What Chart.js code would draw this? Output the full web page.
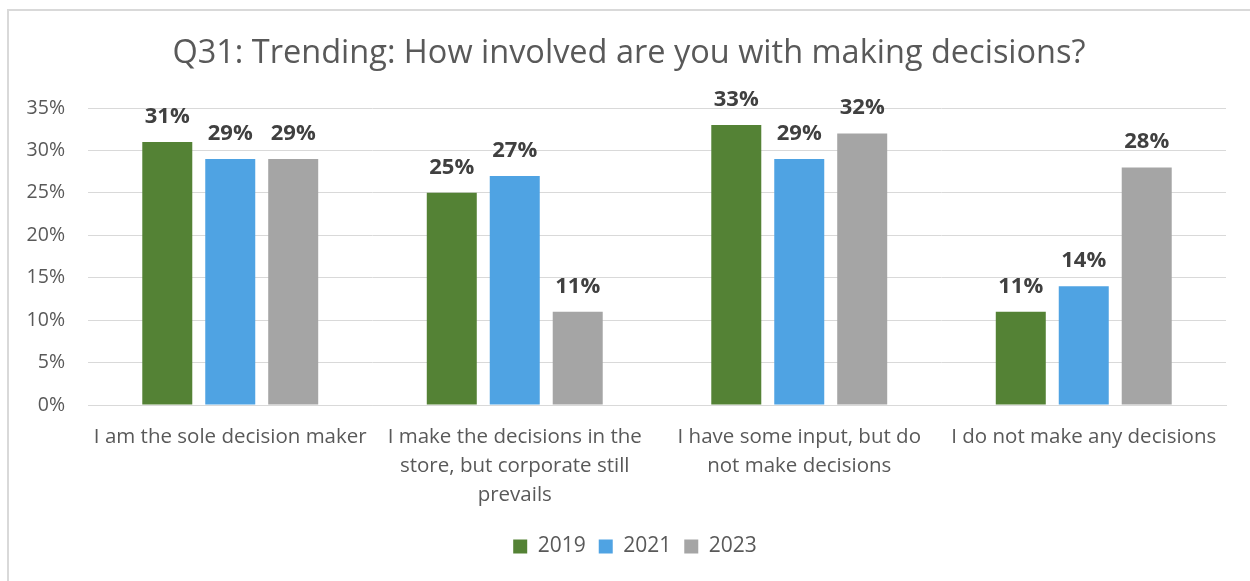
<!DOCTYPE html>
<html>
<head>
<meta charset="utf-8">
<script src="https://cdn.jsdelivr.net/npm/chart.js@4"></script>
<style>
  html, body { margin: 0; padding: 0; background: #fff; }
  #wrap { position: relative; width: 1250px; height: 581px; overflow: hidden; }
  #frame { position: absolute; left: 7px; top: 9px; width: 1300px; height: 600px;
           border-left: 2px solid #d9d9d9; border-top: 2px solid #d9d9d9; }
  canvas { position: absolute; left: 0; top: 0; }
</style>
</head>
<body>
<div id="wrap">
  <div id="frame"></div>
  <canvas id="bar-chart" width="1250" height="581"></canvas>
</div>
<script>
const categories = [
    'I am the sole decision maker',
    ['I make the decisions in the', 'store, but corporate still', 'prevails'],
    ['I have some input, but do', 'not make decisions'],
    'I do not make any decisions',
];
const values2019 = [31, 25, 33, 11];
const values2021 = [29, 27, 29, 14];
const values2023 = [29, 11, 32, 28];
const yTicks = [0, 5, 10, 15, 20, 25, 30, 35];

const FONT = "'Open Sans', sans-serif";

// value labels drawn above each bar
const barLabels = {
    id: 'barLabels',
    afterDatasetsDraw(chart) {
        const ctx = chart.ctx;
        ctx.save();
        ctx.font = 'bold 22px ' + FONT;
        ctx.fillStyle = '#404040';
        ctx.textAlign = 'center';
        ctx.textBaseline = 'alphabetic';
        chart.data.datasets.forEach((ds, i) => {
            chart.getDatasetMeta(i).data.forEach((bar, j) => {
                ctx.fillText(ds.data[j] + '%', bar.x, bar.y - 19);
            });
        });
        ctx.restore();
    },
};

// nudge title and legend to the right so they sit centred on the frame
const centreBoxes = {
    id: 'centreBoxes',
    afterLayout(chart) {
        const shift = (box, dx) => {
            if (!box) return;
            box.left += dx;
            box.right += dx;
        };
        shift(chart.titleBlock, 11);
        shift(chart.legend, 17);
    },
};

const canvas = document.getElementById('bar-chart');
const ctx = canvas.getContext('2d');
const barChart = new Chart(ctx, {
    type: 'bar',
    data: {
        labels: categories,
        datasets: [
            { label: '2019', data: values2019, backgroundColor: '#548235' },
            { label: '2021', data: values2021, backgroundColor: '#4FA3E3' },
            { label: '2023', data: values2023, backgroundColor: '#A5A5A5' },
        ],
    },
    options: {
        responsive: false,
        animation: false,
        categoryPercentage: 0.664,
        barPercentage: 0.794,
        layout: { padding: { left: 10, right: 24, top: 0, bottom: 14 } },
        plugins: {
            title: {
                display: true,
                text: 'Q31: Trending: How involved are you with making decisions?',
                color: '#595959',
                font: { family: FONT, size: 32.5, weight: 'normal' },
                padding: { top: 34, bottom: 35 },
            },
            legend: {
                position: 'bottom',
                labels: {
                    color: '#595959',
                    font: { family: FONT, size: 21 },
                    boxWidth: 14,
                    boxHeight: 14,
                    padding: 13,
                },
            },
            tooltip: { enabled: false },
        },
        scales: {
            x: {
                grid: { display: false },
                border: { color: '#d9d9d9', width: 1 },
                ticks: {
                    color: '#595959',
                    font: { family: FONT, size: 20.5, lineHeight: 1.4 },
                    maxRotation: 0,
                    autoSkip: false,
                    padding: 10,
                },
                afterFit(scale) { scale.height = 118; },
            },
            y: {
                min: 0,
                max: 35,
                afterBuildTicks(scale) { scale.ticks = yTicks.map(v => ({ value: v })); },
                grid: { color: '#d9d9d9', lineWidth: 1, drawTicks: false },
                border: { display: false },
                ticks: {
                    color: '#595959',
                    font: { family: FONT, size: 19.5 },
                    padding: 23,
                    callback: v => v + '%',
                },
                afterFit(scale) { scale.width = 78; },
            },
        },
    },
    plugins: [barLabels, centreBoxes],
});
</script>
</body>
</html>
